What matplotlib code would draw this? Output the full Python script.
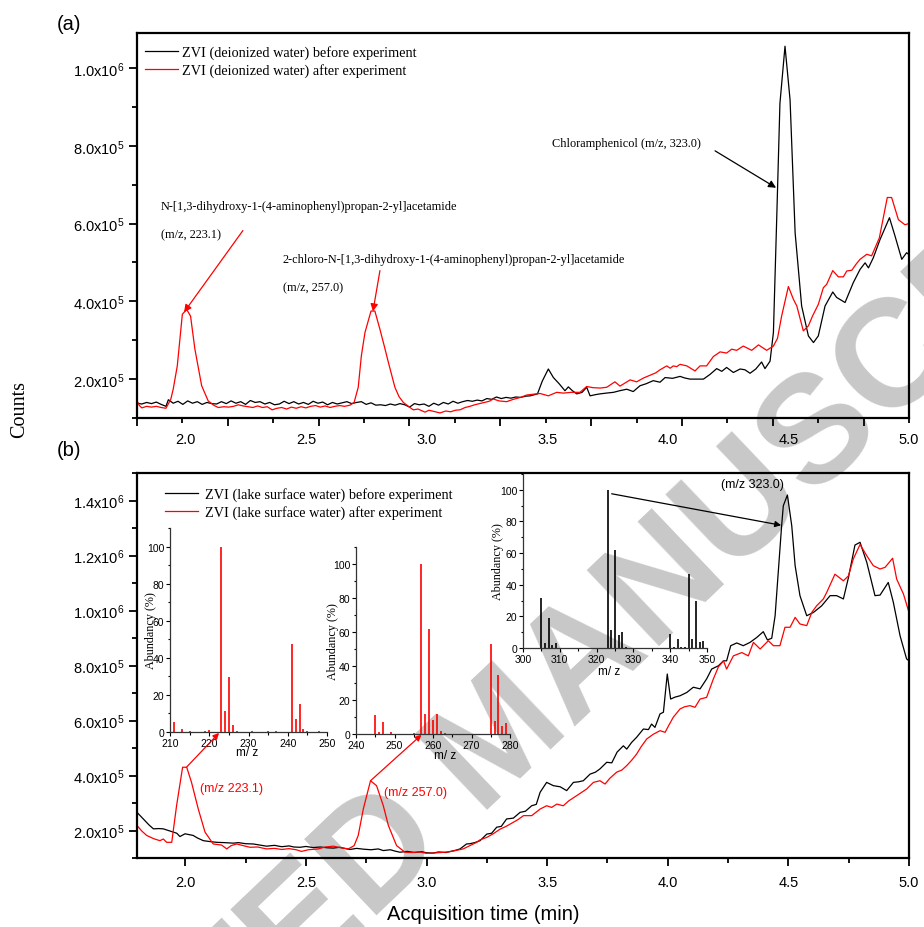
import numpy as np
import matplotlib
matplotlib.use("Agg")
import matplotlib.pyplot as plt
from matplotlib.patches import ConnectionPatch
from matplotlib.ticker import FuncFormatter, MultipleLocator

plt.rcParams['font.family'] = ['Liberation Sans', 'DejaVu Sans']
plt.rcParams['mathtext.fontset'] = 'custom'
plt.rcParams['mathtext.rm'] = 'Liberation Sans'
plt.rcParams['mathtext.it'] = 'Liberation Sans:italic'
plt.rcParams['mathtext.bf'] = 'Liberation Sans:bold'

SERIF = ['Liberation Serif', 'DejaVu Serif']
RED = '#ff0000'
SCALE = 1e5  # counts are listed in units of 1e5

# ---------------- (a) ZVI in deionized water ----------------
di_before_t = [
    1.80, 1.82, 1.84, 1.86, 1.88, 1.90, 1.92, 1.93, 1.95, 1.97,
    1.99, 2.01, 2.03, 2.05, 2.07, 2.09, 2.11, 2.13, 2.15, 2.17,
    2.19, 2.21, 2.23, 2.25, 2.27, 2.29, 2.31, 2.33, 2.35, 2.37,
    2.39, 2.41, 2.43, 2.45, 2.47, 2.49, 2.51, 2.53, 2.55, 2.57,
    2.59, 2.61, 2.63, 2.65, 2.67, 2.69, 2.71, 2.73, 2.75, 2.77,
    2.79, 2.81, 2.83, 2.85, 2.87, 2.89, 2.91, 2.93, 2.95, 2.97,
    2.99, 3.01, 3.03, 3.05, 3.07, 3.09, 3.11, 3.13, 3.15, 3.17,
    3.19, 3.21, 3.23, 3.25, 3.27, 3.29, 3.31, 3.33, 3.35, 3.37,
    3.39, 3.41, 3.43, 3.46, 3.48, 3.505, 3.526, 3.55, 3.574, 3.588,
    3.605, 3.623, 3.645, 3.664, 3.678, 3.70, 3.719, 3.745, 3.775, 3.80,
    3.83, 3.857, 3.885, 3.91, 3.94, 3.968, 3.989, 4.02, 4.051, 4.07,
    4.092, 4.12, 4.148, 4.175, 4.203, 4.224, 4.244, 4.272, 4.30, 4.32,
    4.341, 4.365, 4.389, 4.403, 4.424, 4.438, 4.452, 4.465, 4.486, 4.507,
    4.528, 4.555, 4.583, 4.604, 4.624, 4.652, 4.684, 4.70, 4.735, 4.769,
    4.797, 4.818, 4.832, 4.852, 4.88, 4.919, 4.942, 4.97, 4.99, 5.00]
di_before_counts = [
    1.38, 1.36, 1.40, 1.37, 1.41, 1.35, 1.30, 1.47, 1.38, 1.43,
    1.35, 1.44, 1.38, 1.42, 1.35, 1.40, 1.37, 1.36, 1.42, 1.37,
    1.44, 1.38, 1.42, 1.35, 1.45, 1.40, 1.42, 1.36, 1.40, 1.34,
    1.36, 1.43, 1.37, 1.42, 1.36, 1.40, 1.35, 1.43, 1.38, 1.41,
    1.34, 1.40, 1.36, 1.39, 1.42, 1.37, 1.40, 1.42, 1.35, 1.39,
    1.33, 1.34, 1.32, 1.36, 1.33, 1.37, 1.34, 1.28, 1.37, 1.34,
    1.36, 1.30, 1.38, 1.33, 1.40, 1.36, 1.43, 1.38, 1.42, 1.45,
    1.43, 1.46, 1.44, 1.50, 1.48, 1.54, 1.50, 1.53, 1.51, 1.54,
    1.53, 1.56, 1.57, 1.62, 1.95, 2.26, 2.04, 1.88, 1.70, 1.80,
    1.70, 1.62, 1.66, 1.79, 1.57, 1.60, 1.62, 1.64, 1.66, 1.70,
    1.74, 1.68, 1.83, 1.88, 1.96, 1.92, 2.04, 2.02, 2.07, 2.03,
    2.00, 2.00, 2.00, 2.12, 2.27, 2.20, 2.30, 2.17, 2.26, 2.24,
    2.15, 2.26, 2.44, 2.27, 2.46, 3.20, 6.20, 9.09, 10.56, 9.18,
    5.76, 3.88, 3.11, 2.94, 3.11, 3.88, 4.24, 4.10, 3.97, 4.48,
    4.82, 4.99, 4.86, 5.12, 5.59, 6.15, 5.68, 5.08, 5.25, 5.20]

di_after_t = [
    1.80, 1.81, 1.82, 1.84, 1.86, 1.88, 1.90, 1.92, 1.94, 1.95,
    1.967, 1.988, 2.006, 2.022, 2.04, 2.068, 2.095, 2.12, 2.137, 2.16,
    2.18, 2.20, 2.22, 2.24, 2.26, 2.28, 2.30, 2.32, 2.34, 2.36,
    2.38, 2.40, 2.42, 2.44, 2.46, 2.48, 2.50, 2.52, 2.54, 2.56,
    2.58, 2.60, 2.62, 2.64, 2.66, 2.683, 2.70, 2.717, 2.73, 2.745,
    2.77, 2.786, 2.807, 2.825, 2.842, 2.869, 2.886, 2.904, 2.925, 2.945,
    2.965, 2.994, 3.01, 3.03, 3.056, 3.08, 3.10, 3.12, 3.139, 3.16,
    3.18, 3.20, 3.22, 3.24, 3.26, 3.277, 3.30, 3.332, 3.36, 3.39,
    3.415, 3.44, 3.471, 3.505, 3.52, 3.54, 3.567, 3.60, 3.636, 3.664,
    3.69, 3.72, 3.747, 3.781, 3.802, 3.844, 3.871, 3.90, 3.927, 3.95,
    3.968, 3.996, 4.01, 4.023, 4.037, 4.051, 4.079, 4.113, 4.134, 4.161,
    4.189, 4.217, 4.244, 4.265, 4.286, 4.313, 4.348, 4.376, 4.41, 4.438,
    4.455, 4.472, 4.50, 4.521, 4.535, 4.562, 4.583, 4.60, 4.624, 4.645,
    4.659, 4.684, 4.707, 4.728, 4.742, 4.763, 4.78, 4.797, 4.825, 4.845,
    4.877, 4.91, 4.928, 4.956, 4.983, 5.00]
di_after_counts = [
    1.44, 1.32, 1.26, 1.30, 1.28, 1.30, 1.27, 1.25, 1.48, 1.74,
    2.34, 3.67, 3.79, 3.62, 2.77, 1.83, 1.44, 1.32, 1.27, 1.29,
    1.28, 1.30, 1.34, 1.31, 1.29, 1.27, 1.31, 1.27, 1.29, 1.21,
    1.25, 1.27, 1.23, 1.28, 1.25, 1.29, 1.26, 1.30, 1.32, 1.28,
    1.31, 1.27, 1.30, 1.32, 1.30, 1.33, 1.40, 1.79, 2.60, 3.20,
    3.75, 3.75, 3.28, 2.85, 2.43, 1.79, 1.55, 1.40, 1.30, 1.21,
    1.23, 1.15, 1.20, 1.17, 1.13, 1.18, 1.16, 1.20, 1.21, 1.27,
    1.30, 1.34, 1.37, 1.40, 1.43, 1.49, 1.44, 1.42, 1.48, 1.53,
    1.59, 1.61, 1.63, 1.57, 1.61, 1.66, 1.64, 1.66, 1.66, 1.81,
    1.78, 1.77, 1.79, 1.93, 1.82, 1.98, 1.93, 2.03, 2.10, 2.16,
    2.24, 2.34, 2.28, 2.34, 2.32, 2.38, 2.34, 2.21, 2.34, 2.34,
    2.58, 2.70, 2.67, 2.77, 2.74, 2.85, 2.74, 2.88, 2.74, 2.85,
    3.05, 3.62, 4.38, 4.05, 3.88, 3.24, 3.37, 3.62, 3.92, 4.35,
    4.44, 4.79, 4.63, 4.63, 4.78, 4.80, 4.95, 5.08, 5.21, 5.17,
    5.63, 6.67, 6.67, 6.10, 5.97, 6.00]

# ---------------- (b) ZVI in lake surface water ----------------
lake_before_t = [
    1.80, 1.826, 1.85, 1.868, 1.89, 1.909, 1.93, 1.95, 1.965, 1.978,
    1.999, 2.015, 2.033, 2.05, 2.075, 2.10, 2.13, 2.16, 2.199, 2.22,
    2.25, 2.282, 2.31, 2.337, 2.37, 2.40, 2.43, 2.45, 2.476, 2.50,
    2.53, 2.56, 2.59, 2.614, 2.64, 2.66, 2.683, 2.71, 2.74, 2.77,
    2.80, 2.821, 2.85, 2.87, 2.89, 2.92, 2.95, 2.98, 3.00, 3.028,
    3.05, 3.08, 3.10, 3.12, 3.139, 3.166, 3.18, 3.20, 3.222, 3.25,
    3.27, 3.291, 3.31, 3.332, 3.36, 3.388, 3.41, 3.436, 3.455, 3.471,
    3.498, 3.526, 3.554, 3.581, 3.609, 3.63, 3.65, 3.678, 3.70, 3.719,
    3.747, 3.768, 3.79, 3.816, 3.83, 3.85, 3.871, 3.899, 3.92, 3.933,
    3.947, 3.968, 3.982, 3.998, 4.012, 4.03, 4.051, 4.079, 4.106, 4.134,
    4.161, 4.182, 4.21, 4.231, 4.244, 4.261, 4.286, 4.313, 4.341, 4.369,
    4.396, 4.413, 4.431, 4.445, 4.472, 4.479, 4.496, 4.514, 4.528, 4.548,
    4.576, 4.604, 4.638, 4.673, 4.70, 4.728, 4.749, 4.776, 4.797, 4.825,
    4.859, 4.88, 4.914, 4.935, 4.963, 4.99, 5.00]
lake_before_counts = [
    2.66, 2.42, 2.20, 2.06, 2.07, 2.06, 2.00, 1.94, 1.90, 1.78,
    1.88, 1.85, 1.82, 1.73, 1.63, 1.60, 1.57, 1.56, 1.54, 1.56,
    1.52, 1.51, 1.47, 1.43, 1.46, 1.41, 1.44, 1.40, 1.39, 1.42,
    1.38, 1.40, 1.37, 1.36, 1.39, 1.35, 1.31, 1.35, 1.32, 1.30,
    1.33, 1.27, 1.30, 1.25, 1.21, 1.24, 1.20, 1.23, 1.19, 1.18,
    1.22, 1.20, 1.24, 1.28, 1.33, 1.51, 1.52, 1.56, 1.63, 1.87,
    1.90, 2.12, 2.15, 2.42, 2.45, 2.66, 2.70, 2.90, 2.95, 3.39,
    3.75, 3.63, 3.59, 3.45, 3.75, 3.77, 3.81, 4.05, 4.12, 4.24,
    4.48, 4.46, 4.85, 5.08, 4.96, 5.20, 5.39, 5.69, 5.67, 5.87,
    5.75, 6.24, 6.30, 7.69, 6.78, 6.85, 6.90, 7.02, 7.21, 7.15,
    7.51, 7.87, 7.99, 8.17, 8.17, 8.72, 8.82, 8.72, 8.84, 9.02,
    9.23, 8.93, 8.99, 9.81, 13.08, 13.81, 14.20, 13.08, 11.63, 10.54,
    9.81, 9.93, 10.17, 10.54, 10.54, 10.42, 11.20, 12.38, 12.48, 11.75,
    10.54, 10.56, 11.02, 10.30, 9.08, 8.24, 8.17]

lake_after_t = [
    1.80, 1.82, 1.84, 1.87, 1.895, 1.909, 1.923, 1.944, 1.964, 1.989,
    2.006, 2.026, 2.054, 2.082, 2.116, 2.151, 2.172, 2.19, 2.213, 2.24,
    2.268, 2.30, 2.337, 2.37, 2.40, 2.43, 2.46, 2.482, 2.51, 2.551,
    2.58, 2.614, 2.64, 2.676, 2.70, 2.717, 2.738, 2.768, 2.793, 2.821,
    2.842, 2.876, 2.911, 2.94, 2.97, 3.00, 3.028, 3.06, 3.09, 3.12,
    3.152, 3.18, 3.208, 3.222, 3.25, 3.28, 3.305, 3.33, 3.36, 3.38,
    3.402, 3.436, 3.471, 3.498, 3.519, 3.54, 3.567, 3.59, 3.623, 3.664,
    3.692, 3.719, 3.74, 3.76, 3.788, 3.81, 3.83, 3.85, 3.871, 3.89,
    3.913, 3.94, 3.968, 3.989, 4.006, 4.023, 4.051, 4.07, 4.092, 4.113,
    4.134, 4.161, 4.189, 4.21, 4.231, 4.244, 4.272, 4.307, 4.334, 4.355,
    4.383, 4.40, 4.417, 4.438, 4.465, 4.486, 4.507, 4.528, 4.548, 4.576,
    4.597, 4.617, 4.645, 4.659, 4.693, 4.728, 4.749, 4.769, 4.797, 4.825,
    4.852, 4.88, 4.901, 4.932, 4.949, 4.977, 5.00]
lake_after_counts = [
    2.18, 1.98, 1.82, 1.70, 1.63, 1.69, 1.57, 1.57, 2.90, 4.30,
    4.30, 3.75, 2.78, 1.94, 1.51, 1.47, 1.33, 1.45, 1.51, 1.45,
    1.39, 1.40, 1.33, 1.35, 1.31, 1.34, 1.30, 1.24, 1.30, 1.33,
    1.40, 1.43, 1.38, 1.33, 1.45, 1.82, 2.78, 3.81, 3.63, 2.90,
    2.18, 1.45, 1.21, 1.20, 1.22, 1.17, 1.18, 1.20, 1.22, 1.27,
    1.33, 1.45, 1.57, 1.66, 1.75, 1.90, 2.05, 2.15, 2.30, 2.40,
    2.54, 2.54, 2.78, 2.90, 2.84, 2.96, 2.90, 3.08, 3.27, 3.51,
    3.75, 3.81, 3.69, 3.90, 4.12, 4.20, 4.36, 4.55, 4.78, 5.05,
    5.33, 5.50, 5.63, 5.57, 5.85, 6.12, 6.42, 6.50, 6.54, 6.48,
    6.78, 6.84, 7.51, 7.95, 8.17, 7.87, 8.35, 8.47, 8.35, 8.84,
    8.60, 8.75, 8.90, 8.72, 8.72, 9.39, 9.39, 9.75, 9.51, 9.45,
    9.93, 10.17, 10.42, 10.66, 11.32, 11.08, 11.26, 11.87, 12.40, 11.99,
    11.63, 11.51, 11.57, 11.90, 11.14, 10.60, 9.93]

# ---------------- mass spectra (insets) ----------------
ms223_mz = [211, 213, 215, 219, 220, 223, 224, 225, 226, 227, 231, 235, 237,
            241, 242, 243, 244, 245, 248]
ms223_abund = [5.2, 1.8, 0.5, 0.6, 1.2, 100, 11.5, 29.8, 3.8, 0.5, 0.4, 0.5, 0.4,
               47.2, 6.8, 15.2, 1.5, 0.4, 0.5]

ms257_mz = [245, 246, 247, 249, 255, 257, 258, 259, 260, 261, 262, 263,
            275, 276, 277, 278, 279]
ms257_abund = [11.0, 1.0, 6.8, 1.0, 0.5, 100, 12.0, 62.0, 8.0, 11.5, 1.5, 0.5,
               53.0, 7.5, 34.5, 4.8, 6.2]

ms323_mz = [305, 306, 307, 308, 309, 323, 324, 325, 326, 327, 328,
            340, 341, 342, 343, 344, 345, 346, 347, 348, 349]
ms323_abund = [31.6, 3.4, 19.0, 2.0, 3.2, 100, 11.6, 61.7, 8.0, 9.9, 0.6,
               9.0, 0.4, 5.9, 0.4, 0.5, 47.0, 6.0, 29.7, 3.8, 4.6]

time_labels = [2.0, 2.5, 3.0, 3.5, 4.0, 4.5, 5.0]


def sci_label(v, pos):
    mant, exp = f"{v:.1e}".split('e')
    return f"{mant}x10$^{{{int(exp)}}}$"


W, H = 924, 928


def box(left, top, right, bottom):
    return [left / W, 1 - bottom / H, (right - left) / W, (bottom - top) / H]


fig = plt.figure(figsize=(W / 100, H / 100), dpi=100)

# background watermark
fig.text(503 / W, 1 - 742 / H, 'ACCEPTED MANUSCRIPT', rotation=43.6,
         rotation_mode='anchor', ha='center', va='center', fontsize=110,
         fontweight='bold', color='#c8c8c8', zorder=-5)

ax_a = fig.add_axes(box(137, 34, 909, 419))
ax_b = fig.add_axes(box(137, 474, 909, 859))


def style_main(ax):
    ax.set_facecolor('none')
    for s in ax.spines.values():
        s.set_linewidth(1.6)
    ax.tick_params(which='both', direction='out', width=1.3, top=False, right=False,
                   labelsize=10.5)
    ax.tick_params(which='major', length=6)
    ax.tick_params(which='minor', length=3.5)
    ax.tick_params(axis='y', pad=3)
    ax.yaxis.set_major_formatter(FuncFormatter(sci_label))
    ax.yaxis.set_minor_locator(MultipleLocator(1e5))
    ax.set_xlim(1.8, 5.0)


style_main(ax_a)
style_main(ax_b)

# ---- panel (a)
ax_a.plot(di_before_t, np.array(di_before_counts) * SCALE, color='black', lw=0.9,
          label='ZVI (deionized water) before experiment')
ax_a.plot(di_after_t, np.array(di_after_counts) * SCALE, color=RED, lw=0.9,
          label='ZVI (deionized water) after experiment')
ax_a.set_ylim(1e5, 1.09e6)
ax_a.set_yticks([2e5, 4e5, 6e5, 8e5, 1e6])

# tick marks of panel (a) follow their own spacing; labels sit on a separate scale
mark_step = 3.2 / 8.5
ax_a.set_xticks([1.8 + k * mark_step for k in range(9)])
ax_a.set_xticks([1.8 + (k + 0.5) * mark_step for k in range(9)], minor=True)
ax_a.tick_params(axis='x', which='both', labelbottom=False)
sec = ax_a.secondary_xaxis('bottom')
sec.set_xticks(time_labels)
sec.set_xticklabels([f"{v:.1f}" for v in time_labels])
sec.tick_params(length=0, pad=10, labelsize=10.5)
sec.spines['bottom'].set_visible(False)

ax_a.legend(loc='upper left', bbox_to_anchor=(8 / 772, (419 - 46) / 385),
            frameon=False, prop={'family': SERIF, 'size': 10.3},
            handlelength=2.3, handletextpad=0.3, labelspacing=0.28,
            borderpad=0, borderaxespad=0)

ann = dict(family=SERIF, fontsize=8.8, va='center', ha='left')
ax_a.text(1.9, 6.44e5, 'N-[1,3-dihydroxy-1-(4-aminophenyl)propan-2-yl]acetamide', **ann)
ax_a.text(1.9, 5.72e5, '(m/z, 223.1)', **ann)
ax_a.text(2.405, 5.08e5, '2-chloro-N-[1,3-dihydroxy-1-(4-aminophenyl)propan-2-yl]acetamide', **ann)
ax_a.text(2.405, 4.36e5, '(m/z, 257.0)', **ann)
ax_a.text(3.52, 8.08e5, 'Chloramphenicol (m/z, 323.0)', **ann)

arrow_red = dict(arrowstyle='-|>', color=RED, lw=0.9, mutation_scale=11,
                 shrinkA=0, shrinkB=0)
arrow_blk = dict(arrowstyle='-|>', color='black', lw=0.9, mutation_scale=11,
                 shrinkA=0, shrinkB=0)
ax_a.annotate('', xy=(1.995, 3.72e5), xytext=(2.239, 5.82e5), arrowprops=arrow_red)
ax_a.annotate('', xy=(2.778, 3.74e5), xytext=(2.807, 4.79e5), arrowprops=arrow_red)
ax_a.annotate('', xy=(4.449, 6.92e5), xytext=(4.196, 7.87e5), arrowprops=arrow_blk)

# ---- panel (b)
ax_b.plot(lake_before_t, np.array(lake_before_counts) * SCALE, color='black', lw=0.9,
          label='ZVI (lake surface water) before experiment')
ax_b.plot(lake_after_t, np.array(lake_after_counts) * SCALE, color=RED, lw=0.9,
          label='ZVI (lake surface water) after experiment')
ax_b.set_ylim(1e5, 1.5e6)
ax_b.set_yticks([2e5, 4e5, 6e5, 8e5, 1.0e6, 1.2e6, 1.4e6])
ax_b.set_xticks(time_labels)
ax_b.xaxis.set_major_formatter(FuncFormatter(lambda v, p: f"{v:.1f}"))
ax_b.xaxis.set_minor_locator(MultipleLocator(0.25))
ax_b.tick_params(axis='x', pad=6)

ax_b.legend(loc='upper left', bbox_to_anchor=(28 / 772, (859 - 488) / 385),
            frameon=False, prop={'family': SERIF, 'size': 10.3},
            handlelength=2.3, handletextpad=0.5, labelspacing=0.28,
            borderpad=0, borderaxespad=0)

ax_b.text(2.061, 3.55e5, '(m/z 223.1)', color=RED, fontsize=9, va='center')
ax_b.text(2.824, 3.40e5, '(m/z 257.0)', color=RED, fontsize=9, va='center')
ax_b.text(4.221, 1.46e6, '(m/z 323.0)', color='black', fontsize=9, va='center')

# ---- inset spectra
ins1 = fig.add_axes(box(170, 529, 327, 733))
ins2 = fig.add_axes(box(356, 548, 510, 735))
ins3 = fig.add_axes(box(523, 475, 707, 649))


def style_inset(ax, mz, ab, color, xlim, ylabel_dx, xlabel_xy):
    ax.vlines(mz, 0, ab, color=color, lw=1.2)
    ax.set_xlim(*xlim)
    ax.set_ylim(0, 110)
    ax.set_facecolor('none')
    for side in ('top', 'right'):
        ax.spines[side].set_visible(False)
    for side in ('left', 'bottom'):
        ax.spines[side].set_linewidth(0.9)
        ax.spines[side].set_color('#333333')
    ax.set_yticks([0, 20, 40, 60, 80, 100])
    ax.yaxis.set_minor_locator(MultipleLocator(10))
    ax.xaxis.set_major_locator(MultipleLocator(10))
    ax.xaxis.set_minor_locator(MultipleLocator(5))
    ax.tick_params(which='both', direction='out', labelsize=7.5, pad=1, width=0.8)
    ax.tick_params(which='major', length=3)
    ax.tick_params(which='minor', length=1.8)
    ax.set_ylabel('Abundancy (%)', family=SERIF, fontsize=8.7)
    ax.yaxis.set_label_coords(ylabel_dx, 0.5)
    ax.set_xlabel('m/ z', fontsize=8.5)
    ax.xaxis.set_label_coords(*xlabel_xy)


style_inset(ins1, ms223_mz, ms223_abund, RED, (210, 250), -13 / 157, (0.49, -0.068))
style_inset(ins2, ms257_mz, ms257_abund, RED, (240, 280), -17 / 154, (0.58, -0.082))
style_inset(ins3, ms323_mz, ms323_abund, 'black', (300, 350), -19 / 184, (0.47, -0.095))

# arrows linking chromatographic peaks with their spectra
links = [
    ((2.005, 4.30e5), ax_b, (222.5, -0.5), ins1, RED),
    ((2.768, 3.81e5), ax_b, (257.0, -0.5), ins2, RED),
    ((324.1, 97.5), ins3, (4.47, 1.31e6), ax_b, 'black'),
]
for xy_a, src, xy_b, dst, col in links:
    cp = ConnectionPatch(xyA=xy_a, coordsA=src.transData, xyB=xy_b, coordsB=dst.transData,
                         arrowstyle='-|>', color=col, lw=0.9, mutation_scale=9)
    cp.set_zorder(6)
    fig.add_artist(cp)

# figure-level labels
fig.text(69 / W, 1 - 24 / H, '(a)', fontsize=14.5, ha='center', va='center')
fig.text(69 / W, 1 - 451 / H, '(b)', fontsize=14.5, ha='center', va='center')
fig.text(20 / W, 1 - 410 / H, 'Counts', family=SERIF, fontsize=14.5, rotation=90,
         ha='center', va='center')
fig.text(483 / W, 1 - 915 / H, 'Acquisition time (min)', fontsize=14.5,
         ha='center', va='center')

fig.savefig('out.png', dpi=100)
